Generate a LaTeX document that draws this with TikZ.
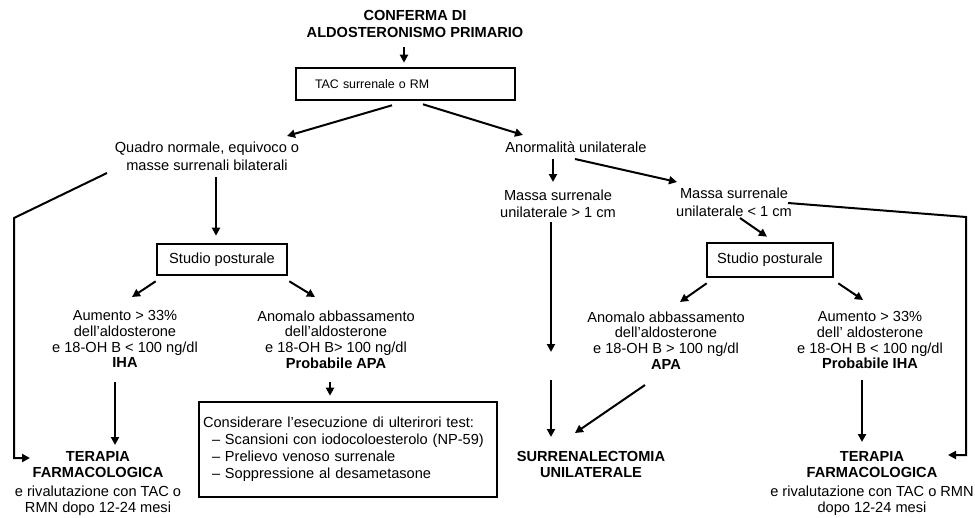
\documentclass[tikz,border=0pt]{standalone}
\usepackage{fontspec}
\setmainfont{Liberation Sans}
\usetikzlibrary{arrows.meta,calc}
\begin{document}
\begin{tikzpicture}[x=1pt,y=-1pt,
  txt/.style={align=center, inner sep=0pt, anchor=north, font=\fontsize{14.6}{15.6}\selectfont},
  boxnode/.style={draw, line width=2.6pt, inner sep=0pt, font=\fontsize{14.6}{17}\selectfont},
  arr/.style={line width=2pt, -{Triangle[length=8pt,width=8pt]}}]
\useasboundingbox (0,0) rectangle (975,517);

% ---- top ----
\node[txt, font=\bfseries\fontsize{14.6}{17}\selectfont] (conf) at (415,10) {CONFERMA DI\\ALDOSTERONISMO PRIMARIO};
\node[boxnode, minimum width=219pt, minimum height=32pt, text width=181pt, align=left,
      font=\fontsize{12.4}{14}\selectfont] (tac) at (405.5,84) {TAC surrenale o RM};

% ---- left branch ----
\node[txt, font=\fontsize{14.6}{18}\selectfont] (quadro) at (207,141.5) {Quadro normale, equivoco o\\masse surrenali bilaterali};
\node[boxnode, minimum width=130pt, minimum height=31pt] (studioL) at (222,259.5) {Studio posturale};
\node[txt] (iha) at (125,310.5) {Aumento > 33\%\\dell’aldosterone\\e 18-OH B < 100 ng/dl\\\textbf{IHA}};
\node[txt] (pAPA) at (336,310.5) {Anomalo abbassamento\\dell’aldosterone\\e 18-OH B> 100 ng/dl\\\textbf{Probabile APA}};
\node[boxnode, minimum width=298pt, minimum height=95pt, text width=290pt, align=left] (cons) at (348,449.5)
  {Considerare l’esecuzione di ulterirori test:\\
   \hspace*{9pt}– Scansioni con iodocoloesterolo (NP-59)\\
   \hspace*{9pt}– Prelievo venoso surrenale\\
   \hspace*{9pt}– Soppressione al desametasone};
\node[txt, font=\fontsize{14.6}{16}\selectfont] (terL) at (98,451.5)
  {\textbf{TERAPIA}\\\textbf{FARMACOLOGICA}\\[3pt]e rivalutazione con TAC o\\RMN dopo 12-24 mesi};

% ---- right branch ----
\node[txt] (anorm) at (576,141.5) {Anormalità unilaterale};
\node[txt, font=\fontsize{14.6}{17}\selectfont] (massa1) at (558,189.5) {Massa surrenale\\unilaterale > 1 cm};
\node[txt, font=\fontsize{14.6}{18}\selectfont] (massa2) at (734,187.5) {Massa surrenale\\unilaterale < 1 cm};
\node[boxnode, minimum width=126pt, minimum height=34pt] (studioR) at (770,260) {Studio posturale};
\node[txt] (APA) at (666,311.5) {Anomalo abbassamento\\dell’aldosterone\\e 18-OH B > 100 ng/dl\\\textbf{APA}};
\node[txt] (pIHA) at (870,311.5) {Aumento > 33\%\\dell’ aldosterone\\e 18-OH B < 100 ng/dl\\\textbf{Probabile IHA}};
\node[txt, font=\bfseries\fontsize{14.6}{16}\selectfont] (surr) at (591,451.5) {SURRENALECTOMIA\\UNILATERALE};
\node[txt, font=\fontsize{14.6}{16}\selectfont] (terR) at (872,451.5)
  {\textbf{TERAPIA}\\\textbf{FARMACOLOGICA}\\[3pt]e rivalutazione con TAC o RMN\\dopo 12-24 mesi};

% gap in the long vertical connector
\coordinate (mgap1) at (551,352);
\coordinate (mgap2) at (551,380);

% ---- connectors ----
\draw[arr] ($(conf.north)+(-11,37)$) -- ($(tac.north)+(-1.5,-4)$);
\draw[arr] ($(tac.south)+(-13.5,4)$) -- ($(quadro.north)+(80,-5.5)$);
\draw[arr] ($(tac.south)+(17.5,3)$) -- ($(anorm.north)+(-53,-6.5)$);

\draw[arr] ($(quadro.north)+(-100,31.5)$) -- ++(-93,45) |- ($(terL.north)+(-68,6.5)$);
\draw[arr] ($(quadro.north)+(9,35.5)$) -- ($(studioL.north)+(-6,-7)$);
\draw[arr] ($(studioL.south west)+(0,5)$) -- ($(iha.north)+(7,-13.5)$);
\draw[arr] ($(studioL.south east)+(1,5)$) -- ($(pAPA.north)+(-21,-13.5)$);
\draw[arr] ($(iha.north)+(-10,71.5)$) -- ($(terL.north)+(17,-6.5)$);
\draw[arr] ($(pAPA.north)+(-6,71.5)$) -- ($(cons.north)+(-18,-5)$);

\draw[arr] ($(anorm.north)+(-23,17.5)$) -- ($(massa1.north)+(-5,-7.5)$);
\draw[arr] ($(anorm.north)+(-1,17.5)$) -- ($(massa2.north)+(-57,-5.5)$);
\draw[arr] ($(massa1.north)+(-7,32.5)$) -- (mgap1);
\draw[arr] (mgap2) -- ($(surr.north)+(-40,-14.5)$);
\draw[arr] ($(massa2.north)+(54,15.5)$) -- ($(massa2.north)+(232,29.5)$) |- ($(terR.north)+(76,3.5)$);
\draw[arr] ($(massa2.north)+(6,30.5)$) -- ($(studioR.north)+(-3,-5)$);
\draw[arr] ($(studioR.south west)+(1,5)$) -- ($(APA.north)+(14,-9.5)$);
\draw[arr] ($(studioR.south east)+(4,5)$) -- ($(pIHA.north)+(-7,-11.5)$);
\draw[arr] ($(APA.north)+(-21,73.5)$) -- ($(surr.north)+(-16,-18.5)$);
\draw[arr] ($(pIHA.north)+(-8,68.5)$) -- ($(terR.north)+(-10,-9.5)$);
\end{tikzpicture}
\end{document}
